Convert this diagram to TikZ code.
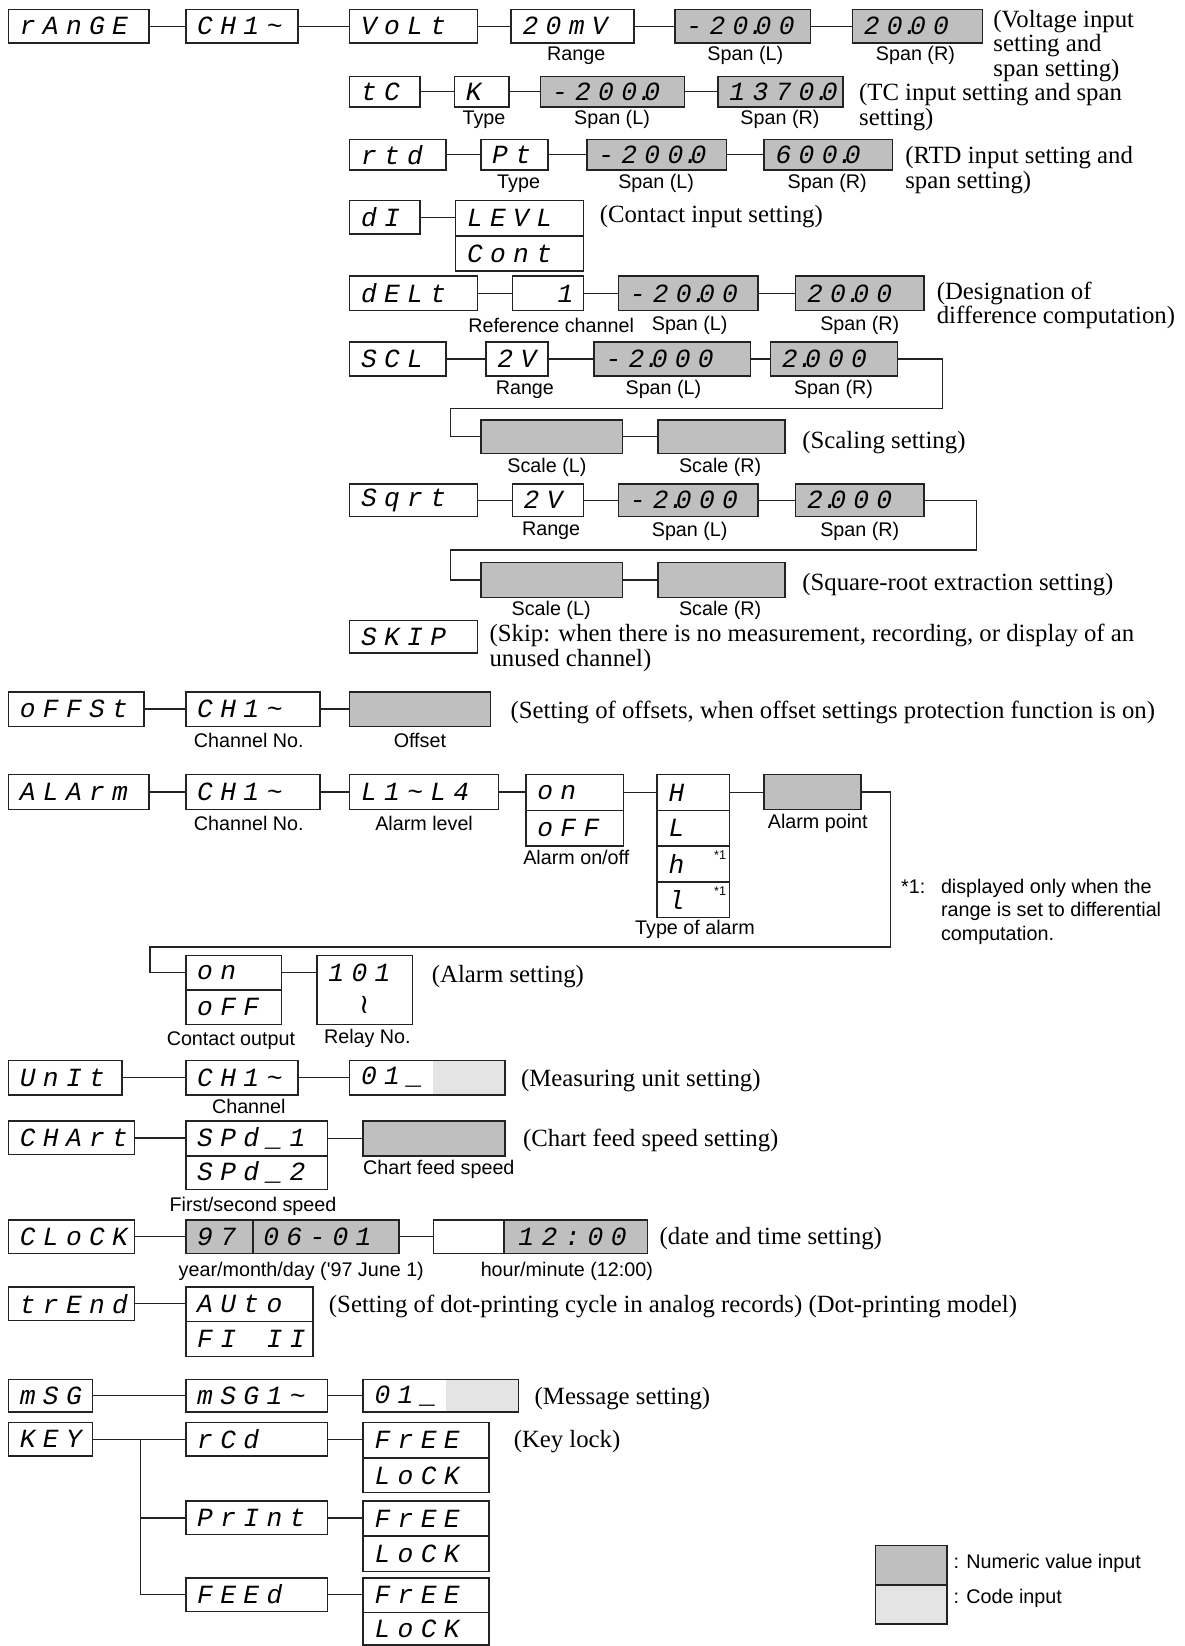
\documentclass[tikz,border=0pt]{standalone}
\usepackage{fontspec}
\setmainfont{Liberation Serif}
\newfontfamily\sansf{Liberation Sans}
\newfontfamily\segf{Liberation Mono}
\newfontfamily\symf{DejaVu Sans}
\definecolor{numgray}{RGB}{191,191,191}
\definecolor{codegray}{RGB}{228,228,228}
\definecolor{edge}{RGB}{35,35,35}
\newlength\segpitch
\setlength\segpitch{11pt}
\makeatletter
\newcommand\seg[1]{\@tfor\segtok:=#1\do{\makebox[\segpitch][c]{\segtok}}}
\makeatother
\newcommand\segdot{\rlap{.}}
\tikzset{
  segbox/.style={draw=edge, line width=0.7pt, inner sep=0pt, outer sep=0pt},
  segtext/.style={anchor=west, inner sep=0pt, font=\segf\itshape\fontsize{12.5}{12.5}\selectfont},
  lab/.style={font=\sansf\fontsize{9.4}{11}\selectfont, inner sep=0pt},
  ann/.style={font=\fontsize{11.8}{11.8}\selectfont, anchor=north west, align=left, inner sep=0pt},
  wire/.style={draw=edge, line width=0.6pt},
}
\newcommand\segbx[7][white]{%
  \node[segbox, fill=#1, minimum width={(#4-#3)*0.5pt}, minimum height={(#6-#5)*0.5pt}] (#2) at ({(#3+#4)/2},{(#5+#6)/2}) {};
  \node[segtext] (#2t) at ([xshift=3.5pt]#2.west) {\seg{#7}};}
\newcommand\conn[2]{\draw[wire] (#1.east) -- (#1.east -| #2.west);}
\begin{document}
\begin{tikzpicture}[x=0.5pt,y=-0.5pt]
\useasboundingbox (0,0) rectangle (1128,1568);

% ---------- rAnGE block ----------
\segbx{r1a}{8}{142}{9}{41}{rAnGE}
\segbx{r1b}{177}{284}{9}{41}{CH1\textasciitilde}
\segbx{r1c}{333}{455}{9}{41}{VoLt}
\segbx{r1d}{487}{604}{9}{41}{20mV}
\segbx[numgray]{r1e}{643}{772}{9}{41}{-2{0\segdot}00}
\segbx[numgray]{r1f}{812}{936}{9}{41}{2{0\segdot}00}
\conn{r1a}{r1b}\conn{r1b}{r1c}\conn{r1c}{r1d}\conn{r1d}{r1e}\conn{r1e}{r1f}
\node[lab] (l1a) at (549,53) {Range};
\node[lab] (l1b) at (710,53) {Span (L)};
\node[lab] (l1c) at (872,53) {Span (R)};
\node[ann] (a1) at (946,9) {(Voltage input\\setting and\\span setting)};

\segbx{r2a}{333}{400}{73}{102}{tC}
\segbx{r2b}{433}{485}{73}{102}{K}
\segbx[numgray]{r2c}{515}{652}{73}{102}{-20{0\segdot}0}
\segbx[numgray]{r2d}{684}{803}{73}{102}{137{0\segdot}0}
\conn{r2a}{r2b}\conn{r2b}{r2c}\conn{r2c}{r2d}
\node[lab] (l2a) at (461,114) {Type};
\node[lab] (l2b) at (583,114) {Span (L)};
\node[lab] (l2c) at (743,114) {Span (R)};
\node[ann] (a2) at (818,79) {(TC input setting and span\\setting)};

\segbx{r3a}{333}{425}{133}{162}{rtd}
\segbx{r3b}{458}{522}{133}{162}{Pt}
\segbx[numgray]{r3c}{559}{692}{133}{162}{-20{0\segdot}0}
\segbx[numgray]{r3d}{728}{850}{133}{162}{60{0\segdot}0}
\conn{r3a}{r3b}\conn{r3b}{r3c}\conn{r3c}{r3d}
\node[lab] (l3a) at (494,175) {Type};
\node[lab] (l3b) at (625,175) {Span (L)};
\node[lab] (l3c) at (788,175) {Span (R)};
\node[ann] (a3) at (862,139) {(RTD input setting and\\span setting)};

\segbx{r4a}{333}{400}{191}{223}{dI}
\segbx{r4b}{434}{556}{191}{225}{LEVL}
\segbx{r4c}{434}{556}{225}{258}{Cont}
\conn{r4a}{r4b}
\node[ann] (a4) at (571,195) {(Contact input setting)};

\segbx{r5a}{333}{455}{263}{296}{dELt}
\node[segbox, minimum width={68*0.5pt}, minimum height={33*0.5pt}] (r5b) at (522,279.5) {};
\node[segtext, anchor=east] (r5bt) at ([xshift=-3pt]r5b.east) {\seg{1}};
\segbx[numgray]{r5c}{589}{722}{263}{296}{-2{0\segdot}00}
\segbx[numgray]{r5d}{758}{880}{263}{296}{2{0\segdot}00}
\conn{r5a}{r5b}\conn{r5b}{r5c}\conn{r5c}{r5d}
\node[lab] (l5a) at (525,310) {Reference channel};
\node[lab] (l5b) at (657,310) {Span (L)};
\node[lab] (l5c) at (819,310) {Span (R)};
\node[ann] (a5) at (892,268) {(Designation of\\difference computation)};

\segbx{r6a}{333}{425}{326}{358}{SCL}
\segbx{r6b}{463}{522}{326}{358}{2V}
\segbx[numgray]{r6c}{566}{715}{326}{358}{-{2\segdot}000}
\segbx[numgray]{r6d}{734}{855}{326}{358}{{2\segdot}000}
\conn{r6a}{r6b}\conn{r6b}{r6c}\conn{r6c}{r6d}
\node[lab] (l6a) at (500,371) {Range};
\node[lab] (l6b) at (632,371) {Span (L)};
\node[lab] (l6c) at (794,371) {Span (R)};
\segbx[numgray]{r6e}{458}{593}{400}{432}{}
\segbx[numgray]{r6f}{627}{748}{400}{432}{}
\coordinate (k6a) at (898,389);
\coordinate (k6b) at (429,389);
\draw[wire] (r6d.east) -| (k6a) -- (k6b) |- (r6e.west);
\conn{r6e}{r6f}
\node[lab] (l6d) at (521,445) {Scale (L)};
\node[lab] (l6e) at (686,445) {Scale (R)};
\node[ann] (a6) at (764,410) {(Scaling setting)};

\segbx{r7a}{333}{455}{461}{492}{Sqrt}
\segbx{r7b}{488}{556}{461}{492}{2V}
\segbx[numgray]{r7c}{589}{722}{461}{492}{-{2\segdot}000}
\segbx[numgray]{r7d}{758}{880}{461}{492}{{2\segdot}000}
\conn{r7a}{r7b}\conn{r7b}{r7c}\conn{r7c}{r7d}
\node[lab] (l7a) at (525,506) {Range};
\node[lab] (l7b) at (657,506) {Span (L)};
\node[lab] (l7c) at (819,506) {Span (R)};
\segbx[numgray]{r7e}{458}{593}{536}{569}{}
\segbx[numgray]{r7f}{627}{748}{536}{569}{}
\coordinate (k7a) at (930,524);
\coordinate (k7b) at (429,524);
\draw[wire] (r7d.east) -| (k7a) -- (k7b) |- (r7e.west);
\conn{r7e}{r7f}
\node[lab] (l7d) at (525,581) {Scale (L)};
\node[lab] (l7e) at (686,581) {Scale (R)};
\node[ann] (a7) at (764,546) {(Square-root extraction setting)};

\segbx{r8a}{333}{455}{591}{622}{SKIP}
\node[ann] (a8) at (466,594) {(Skip: when there is no measurement, recording, or display of an\\unused channel)};

% ---------- oFFSt ----------
\segbx{r9a}{8}{137}{659}{692}{oFFSt}
\segbx{r9b}{177}{305}{659}{692}{CH1\textasciitilde}
\segbx[numgray]{r9c}{333}{467}{659}{692}{}
\conn{r9a}{r9b}\conn{r9b}{r9c}
\node[lab] (l9a) at (237,705) {Channel No.};
\node[lab] (l9b) at (400,705) {Offset};
\node[ann] (a9) at (486,667) {(Setting of offsets, when offset settings protection function is on)};

% ---------- ALArm ----------
\segbx{r10a}{8}{142}{738}{771}{ALArm}
\segbx{r10b}{177}{305}{738}{771}{CH1\textasciitilde}
\segbx{r10c}{333}{475}{738}{771}{L1\textasciitilde L4}
\segbx{r10d}{501}{594}{738}{772}{on}
\segbx{r10e}{501}{594}{772}{806}{oFF}
\segbx{r10f}{626}{695}{738}{772}{H}
\segbx{r10g}{626}{695}{772}{806}{L}
\segbx{r10h}{626}{695}{806}{840}{h}
\segbx{r10i}{626}{695}{840}{874}{l}
\segbx[numgray]{r10j}{728}{820}{738}{771}{}
\conn{r10a}{r10b}\conn{r10b}{r10c}\conn{r10c}{r10d}\conn{r10d}{r10f}\conn{r10f}{r10j}
\node[font=\sansf\fontsize{6}{6}\selectfont, inner sep=0pt] (s1) at (686,815) {*1};
\node[font=\sansf\fontsize{6}{6}\selectfont, inner sep=0pt] (s2) at (686,849) {*1};
\node[lab] (l10a) at (237,784) {Channel No.};
\node[lab] (l10b) at (404,784) {Alarm level};
\node[lab] (l10c) at (549,817) {Alarm on/off};
\node[lab] (l10d) at (662,885) {Type of alarm};
\node[lab] (l10e) at (779,784) {Alarm point};
\node[lab, anchor=west] (f1) at (858,845) {*1:};
\node[lab, anchor=north west, align=left, font=\sansf\fontsize{9.4}{11.2}\selectfont] (f2) at (896,837) {displayed only when the\\range is set to differential\\computation.};

\segbx{r11a}{177}{268}{910}{943}{on}
\segbx{r11b}{177}{268}{943}{976}{oFF}
\node[segbox, minimum width={91*0.5pt}, minimum height={66*0.5pt}] (r11c) at (347.5,943) {};
\node[segtext] (r11ct) at ([xshift=3.5pt]r11c.west |- r11a) {\seg{101}};
\node[font=\symf\fontsize{13}{13}\selectfont, inner sep=0pt] (r11cs) at (347,957) {≀};
\coordinate (k10a) at (848,902);
\coordinate (k10b) at (143,902);
\draw[wire] (r10j.east) -| (k10a) -- (k10b) |- (r11a.west);
\conn{r11a}{r11c}
\node[lab] (l11a) at (220,991) {Contact output};
\node[lab] (l11b) at (350,989) {Relay No.};
\node[ann] (a10) at (411,919) {(Alarm setting)};

% ---------- Unit ----------
\fill[codegray] (412,1010) rectangle (481,1043);
\segbx{r12a}{8}{116}{1010}{1043}{UnIt}
\segbx{r12b}{177}{284}{1010}{1043}{CH1\textasciitilde}
\segbx[none]{r12c}{333}{481}{1010}{1043}{01\_}
\conn{r12a}{r12b}\conn{r12b}{r12c}
\node[lab] (l12a) at (237,1054) {Channel};
\node[ann] (a11) at (496,1018) {(Measuring unit setting)};

% ---------- CHArt ----------
\segbx{r13a}{8}{128}{1068}{1100}{CHArt}
\segbx{r13b}{177}{312}{1068}{1101}{SPd\_1}
\segbx{r13c}{177}{312}{1101}{1133}{SPd\_2}
\segbx[numgray]{r13d}{346}{481}{1068}{1101}{}
\conn{r13a}{r13b}\conn{r13b}{r13d}
\node[lab] (l13a) at (418,1114) {Chart feed speed};
\node[lab] (l13b) at (241,1149) {First/second speed};
\node[ann] (a12) at (498,1075) {(Chart feed speed setting)};

% ---------- CLoCK ----------
\segbx{r14a}{8}{128}{1162}{1194}{CLoCK}
\segbx[numgray]{r14b}{177}{380}{1162}{1194}{97}
\draw[segbox] (241,1162) -- (241,1194);
\node[segtext] (r14bt2) at (247,1178) {\seg{06-01}};
\fill[numgray] (480,1162) rectangle (617,1194);
\segbx[none]{r14c}{413}{617}{1162}{1194}{}
\draw[segbox] (480,1162) -- (480,1194);
\node[segtext] (r14ct2) at (490,1178) {\seg{12:00}};
\conn{r14a}{r14b}\conn{r14b}{r14c}
\node[lab] (l14a) at (287,1211) {year/month/day ('97 June 1)};
\node[lab] (l14b) at (540,1211) {hour/minute (12:00)};
\node[ann] (a13) at (628,1169) {(date and time setting)};

% ---------- trEnd ----------
\segbx{r15a}{8}{128}{1226}{1258}{trEnd}
\segbx{r15b}{177}{298}{1226}{1259}{AUto}
\segbx{r15c}{177}{298}{1259}{1292}{FI{}II}
\conn{r15a}{r15b}
\node[ann] (a14) at (313,1233) {(Setting of dot-printing cycle in analog records) (Dot-printing model)};

% ---------- mSG ----------
\fill[codegray] (425,1314) rectangle (494,1345);
\segbx{r16a}{8}{88}{1314}{1345}{mSG}
\segbx{r16b}{177}{312}{1314}{1345}{mSG1\textasciitilde}
\segbx[none]{r16c}{346}{494}{1314}{1345}{01\_}
\conn{r16a}{r16b}\conn{r16b}{r16c}
\node[ann] (a15) at (509,1321) {(Message setting)};

% ---------- KEY ----------
\segbx{r17a}{8}{88}{1355}{1387}{KEY}
\segbx{r17b}{177}{312}{1355}{1387}{rCd}
\segbx{r17c}{346}{466}{1355}{1389}{FrEE}
\segbx{r17d}{346}{466}{1389}{1422}{LoCK}
\segbx{r17e}{177}{312}{1430}{1462}{PrInt}
\segbx{r17f}{346}{466}{1430}{1463}{FrEE}
\segbx{r17g}{346}{466}{1463}{1497}{LoCK}
\segbx{r17h}{177}{312}{1503}{1535}{FEEd}
\segbx{r17i}{346}{466}{1503}{1536}{FrEE}
\segbx{r17j}{346}{466}{1536}{1567}{LoCK}
\conn{r17a}{r17b}\conn{r17b}{r17c}\conn{r17e}{r17f}\conn{r17h}{r17i}
\coordinate (kb) at (134,1371);
\draw[wire] (kb) |- (r17e.west);
\draw[wire] (kb) |- (r17h.west);
\node[ann] (a16) at (489,1362) {(Key lock)};

% ---------- legend ----------
\segbx[numgray]{lg1}{834}{902}{1472}{1510}{}
\segbx[codegray]{lg2}{834}{902}{1510}{1547}{}
\node[lab, anchor=west] (lg1t) at (908,1489) {: Numeric value input};
\node[lab, anchor=west] (lg2t) at (908,1523) {: Code input};
\end{tikzpicture}
\end{document}
